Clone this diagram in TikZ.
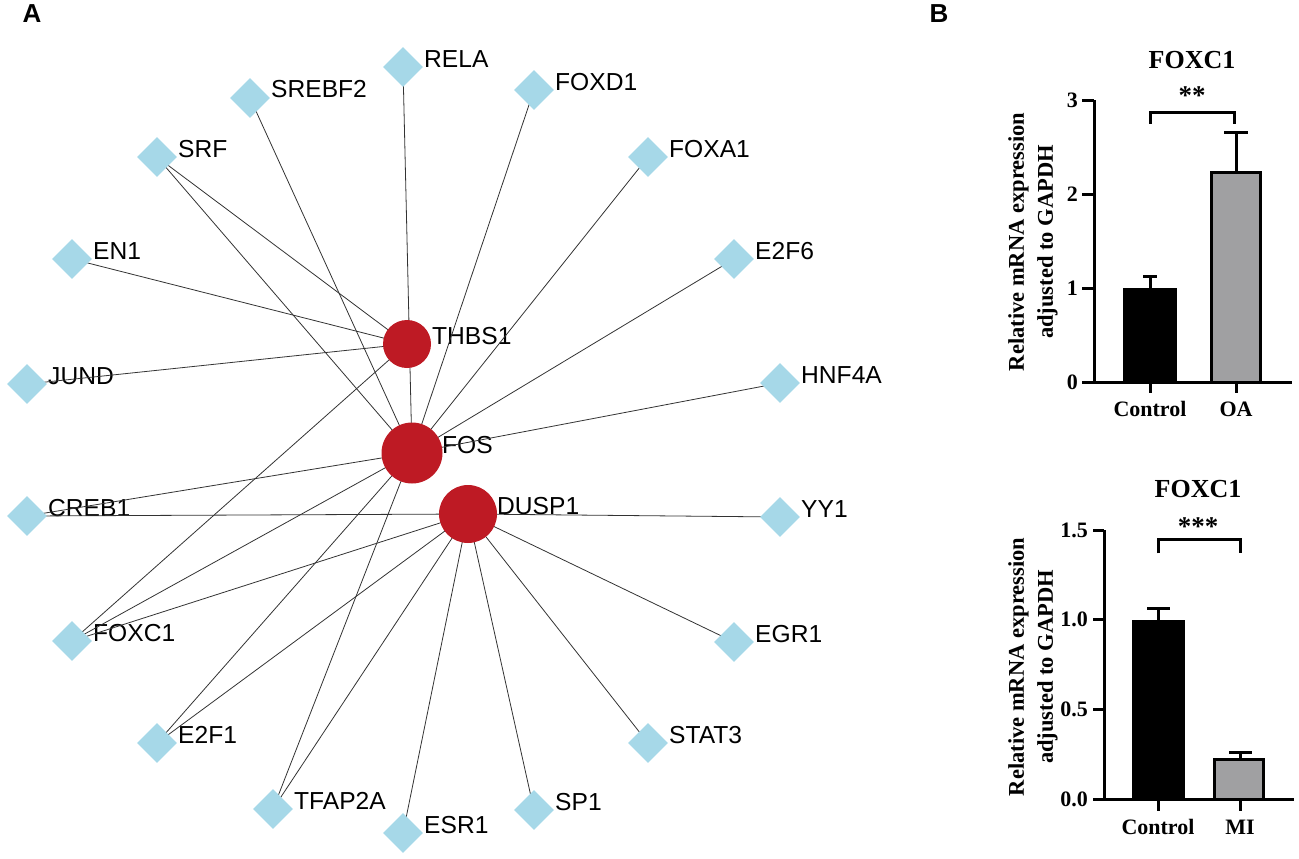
\documentclass[tikz,border=0pt]{standalone}
\usepackage{fontspec}
\setmainfont{Liberation Serif}
\setsansfont{Liberation Sans}
\usetikzlibrary{shapes.geometric,backgrounds}
\definecolor{tfblue}{RGB}{166,216,232}
\definecolor{hubred}{RGB}{190,26,36}
\definecolor{bargray}{RGB}{160,160,162}

\tikzset{
    tf/.style={diamond, fill=tfblue, inner sep=0pt, minimum width=40pt, minimum height=40pt},
    hub/.style={circle, fill=hubred, inner sep=0pt},
    edge/.style={black!80, line width=0.8pt},
    genelbl/.style={font=\sffamily\fontsize{24.6}{28}\selectfont, inner sep=0pt},
    panel/.style={font=\sffamily\bfseries\fontsize{26}{30}\selectfont, inner sep=0pt},
    axis/.style={line width=3pt},
    ticklbl/.style={font=\bfseries\fontsize{22}{26}\selectfont, inner sep=0pt},
    ylbl/.style={font=\bfseries\fontsize{22.5}{29}\selectfont, align=center, rotate=90, inner sep=0pt},
    title/.style={font=\bfseries\fontsize{26}{30}\selectfont, inner sep=0pt},
    stars/.style={font=\bfseries\fontsize{27}{30}\selectfont, inner sep=0pt}
}

\begin{document}
\begin{tikzpicture}[x=1pt, y=-1pt]
    \useasboundingbox (0,0) rectangle (1299,859);

    % Panel letters
    \node[panel] (letA) at (32,14) {A};
    \node[panel] (letB) at (939,14) {B};

    % Hub genes
    \node[hub, minimum size=48pt] (THBS1) at (407,344) {};
    \node[hub, minimum size=61pt] (FOS) at (412,453) {};
    \node[hub, minimum size=58pt] (DUSP1) at (468,514) {};

    % Transcription factors
    \foreach \nm/\px/\py in {RELA/403/67, SREBF2/250/98, SRF/157/157, EN1/72/259,
        JUND/27/384, CREB1/27/516, FOXC1/72/641, E2F1/157/743, TFAP2A/273/809,
        ESR1/403/833, SP1/534/810, STAT3/648/743, EGR1/734/642, YY1/780/517,
        HNF4A/780/383, E2F6/734/259, FOXA1/648/157, FOXD1/534/90} {
        \node[tf] (\nm) at (\px,\py) {};
    }

    \begin{scope}[on background layer]
        % Labels
        \foreach \nm in {RELA, SREBF2, SRF, EN1, JUND, CREB1, FOXC1, E2F1, TFAP2A,
            ESR1, SP1, STAT3, EGR1, YY1, HNF4A, E2F6, FOXA1, FOXD1} {
            \node[genelbl, anchor=base west] at ([xshift=21pt]\nm.center) {\nm};
        }
        \node[genelbl, anchor=base west] at ([xshift=25pt]THBS1.center) {THBS1};
        \node[genelbl, anchor=base west] at ([xshift=30pt]FOS.center) {FOS};
        \node[genelbl, anchor=base west] at ([xshift=29pt]DUSP1.center) {DUSP1};

        % Edges
        \foreach \a/\b in {THBS1/SRF, THBS1/EN1, THBS1/JUND, THBS1/FOXC1,
            FOS/RELA, FOS/SREBF2, FOS/SRF, FOS/FOXD1, FOS/FOXA1, FOS/E2F6, FOS/HNF4A,
            FOS/CREB1, FOS/FOXC1, FOS/E2F1, FOS/TFAP2A,
            DUSP1/CREB1, DUSP1/FOXC1, DUSP1/E2F1, DUSP1/TFAP2A, DUSP1/ESR1,
            DUSP1/SP1, DUSP1/STAT3, DUSP1/EGR1, DUSP1/YY1} {
            \draw[edge] (\a.center) -- (\b.center);
        }
    \end{scope}

    % Bar chart OA
    \node[ylbl] (ylabOA) at (1033,242) {Relative mRNA expression\\adjusted to GAPDH};
    \begin{scope}[shift={(0,382)}, y=94pt]
        \node[title, anchor=base] (titleOA) at (1192,3.34) {FOXC1};
        \fill (1123,0) rectangle (1177,1.0);
        \draw[axis, fill=bargray] (1211.5,0) rectangle (1260.5,2.23);
        \draw[axis] (1150,1.0) -- (1150,1.12) (1143,1.12) -- (1157,1.12);
        \draw[axis] (1236,2.23) -- (1236,2.65) (1224,2.65) -- (1248,2.65);
        \draw[axis] (1094,3) -- (1094,0) -- (1292,0);
        \foreach \v in {0,1,2,3} {
            \draw[axis] (1082,\v) -- (1094,\v);
            \node[ticklbl, anchor=east] at (1078,\v) {\v};
        }
        \draw[axis] (1150,0) -- (1150,-0.12) (1236,0) -- (1236,-0.12);
        \node[ticklbl, anchor=base] (ctrlOA) at (1150,-0.37) {Control};
        \node[ticklbl, anchor=base] (grpOA) at (1236,-0.37) {OA};
        \draw[axis] (1150,2.75) -- (1150,2.87) -- (1234,2.87) -- (1234,2.75);
        \node[stars, anchor=base] (sigOA) at (1192,2.95) {**};
    \end{scope}

    % Bar chart MI
    \node[ylbl] (ylabMI) at (1033,667) {Relative mRNA expression\\adjusted to GAPDH};
    \begin{scope}[shift={(0,799)}, y=179.3pt]
        \node[title, anchor=base] (titleMI) at (1198,1.679) {FOXC1};
        \fill (1132,0) rectangle (1185,1.0);
        \draw[axis, fill=bargray] (1214.5,0) rectangle (1263.5,0.223);
        \draw[axis] (1158,1.0) -- (1158,1.06) (1147,1.06) -- (1170,1.06);
        \draw[axis] (1240,0.223) -- (1240,0.257) (1229,0.257) -- (1252,0.257);
        \draw[axis] (1104,1.5) -- (1104,0) -- (1294,0);
        \foreach \v in {0.0,0.5,1.0,1.5} {
            \draw[axis] (1093,\v) -- (1104,\v);
            \node[ticklbl, anchor=east] at (1088,\v) {\v};
        }
        \draw[axis] (1158,0) -- (1158,-0.067) (1240,0) -- (1240,-0.067);
        \node[ticklbl, anchor=base] (ctrlMI) at (1158,-0.2) {Control};
        \node[ticklbl, anchor=base] (grpMI) at (1240,-0.2) {MI};
        \draw[axis] (1158,1.37) -- (1158,1.45) -- (1240,1.45) -- (1240,1.37);
        \node[stars, anchor=base] (sigMI) at (1198,1.47) {***};
    \end{scope}
\end{tikzpicture}
\end{document}
